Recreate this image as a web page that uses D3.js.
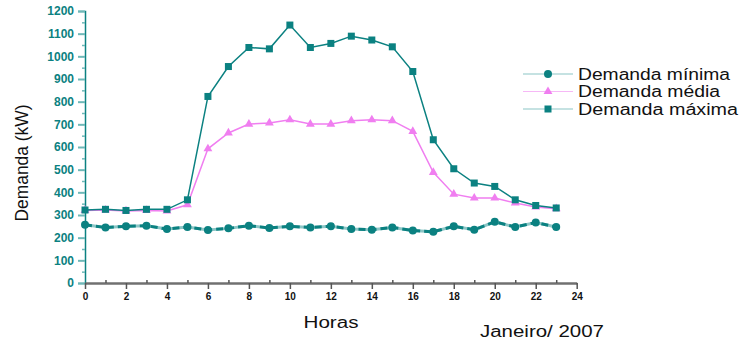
<!DOCTYPE html>
<html>
<head>
<meta charset="utf-8">
<script src="https://cdn.jsdelivr.net/npm/d3@7"></script>
<style>
  body { margin: 0; background: #fff; }
  svg { display: block; font-family: "Liberation Sans", Arial, sans-serif; }
</style>
</head>
<body>
<div id="chart"></div>
<script>
// data
let hours = d3.range(0, 24);
let demMinima = [257, 245, 250, 253, 238, 247, 234, 241, 253, 243, 250, 245, 250, 238, 235, 245, 232, 226, 250, 235, 270, 247, 267, 247];
let demMedia = [320, 322, 318, 320, 318, 345, 592, 662, 701, 706, 720, 701, 701, 716, 720, 716, 669, 488, 392, 375, 375, 353, 335, 328];
let demMaxima = [322, 325, 320, 325, 325, 367, 823, 955, 1039, 1033, 1138, 1039, 1057, 1089, 1072, 1042, 933, 632, 504, 441, 426, 367, 342, 331];
let seriesNames = ["Demanda mínima", "Demanda média", "Demanda máxima"];
let legendWidths = [152, 142, 160];
let yTicks = d3.range(0, 1201, 100);
let xTicks = d3.range(0, 25, 2);

let W = 744, H = 346;
let margin = {top: 11, left: 85, right: 167, bottom: 63};
let width = W - margin.left - margin.right,
    height = H - margin.top - margin.bottom;

let teal = "#0b8181", pink = "#f07ef0";

let x = d3.scaleLinear().domain([0, 24]).range([0, 491.7]);
let y = d3.scaleLinear().domain([0, 1200]).range([height, 0]);

let svg = d3.select("#chart").append("svg")
    .attr("width", W)
    .attr("height", H)
  .append("g")
    .attr("transform", "translate(" + margin.left + "," + margin.top + ")");

// y axis
let yAxis = svg.append("g").attr("class", "y axis")
    .call(d3.axisLeft(y).tickValues(yTicks).tickFormat(d3.format("d")).tickSize(7).tickPadding(4));
yAxis.select(".domain").attr("stroke", teal).attr("stroke-width", 1.5);
yAxis.selectAll(".tick line").attr("stroke", "#6fb8b8").attr("stroke-width", 2);
yAxis.selectAll(".tick text")
    .attr("fill", teal)
    .style("font-size", "12px")
    .style("font-weight", "bold");
svg.append("g")
    .call(d3.axisLeft(y).tickValues(d3.range(50, 1200, 100)).tickSize(3).tickFormat(""))
    .call(g => g.select(".domain").remove())
    .selectAll(".tick line").attr("stroke", "#6fb8b8").attr("stroke-width", 1.5);

// x axis
let xAxis = svg.append("g").attr("class", "x axis")
    .attr("transform", "translate(0," + height + ")")
    .call(d3.axisBottom(x).tickValues(xTicks).tickSize(6).tickPadding(4).tickSizeOuter(0));
xAxis.select(".domain").attr("stroke", "#707070").attr("stroke-width", 2.5);
xAxis.selectAll(".tick line").attr("stroke", "#555").attr("stroke-width", 1.5);
xAxis.selectAll(".tick text")
    .attr("fill", "#111")
    .style("font-size", "10px")
    .style("font-weight", "bold");
svg.append("g")
    .attr("transform", "translate(0," + height + ")")
    .call(d3.axisTop(x).tickValues(d3.range(1, 24, 2)).tickSize(3).tickFormat(""))
    .call(g => g.select(".domain").remove())
    .selectAll(".tick line").attr("stroke", "#555").attr("stroke-width", 1.5);

let line = d3.line().x((d, i) => x(hours[i])).y(d => y(d));

// minimum: thick dashed teal line over a pale one
svg.append("path").datum(demMinima)
    .attr("d", line).attr("fill", "none")
    .attr("stroke", "#8cc6c6").attr("stroke-width", 3);
svg.append("path").datum(demMinima)
    .attr("d", line).attr("fill", "none")
    .attr("stroke", teal).attr("stroke-width", 3)
    .attr("stroke-dasharray", "7,4");
svg.selectAll(".dot-min").data(demMinima).enter().append("circle")
    .attr("class", "dot-min")
    .attr("cx", (d, i) => x(hours[i]))
    .attr("cy", d => y(d))
    .attr("r", 4)
    .attr("fill", teal);

// media
svg.append("path").datum(demMedia)
    .attr("d", line).attr("fill", "none")
    .attr("stroke", pink).attr("stroke-width", 1.5);
let tri = d3.symbol().type(d3.symbolTriangle).size(34);
svg.selectAll(".dot-med").data(demMedia).enter().append("path")
    .attr("class", "dot-med")
    .attr("transform", (d, i) => "translate(" + x(hours[i]) + "," + y(d) + ")")
    .attr("d", tri)
    .attr("fill", pink);

// maxima
svg.append("path").datum(demMaxima)
    .attr("d", line).attr("fill", "none")
    .attr("stroke", teal).attr("stroke-width", 1.5);
svg.selectAll(".dot-max").data(demMaxima).enter().append("rect")
    .attr("class", "dot-max")
    .attr("x", (d, i) => x(hours[i]) - 3.5)
    .attr("y", d => y(d) - 3.5)
    .attr("width", 7)
    .attr("height", 7)
    .attr("fill", teal);

// legend
let legend = svg.append("g").attr("transform", "translate(438,63)");
let legendColors = ["#8cc6c6", "#f6b8f6", "#8cc6c6"];
seriesNames.forEach((name, i) => {
  let g = legend.append("g").attr("transform", "translate(0," + (i * 17.5) + ")");
  g.append("line").attr("x1", 0).attr("x2", 50).attr("y1", 0).attr("y2", 0)
      .attr("stroke", legendColors[i]).attr("stroke-width", 1.2);
  if (i === 0) {
    g.append("circle").attr("cx", 25).attr("cy", 0).attr("r", 4).attr("fill", teal);
  } else if (i === 1) {
    g.append("path").attr("transform", "translate(25,0)").attr("d", tri).attr("fill", pink);
  } else {
    g.append("rect").attr("x", 21.5).attr("y", -3.5).attr("width", 7).attr("height", 7).attr("fill", teal);
  }
  g.append("text").attr("x", 55).attr("y", 0).attr("dy", "0.35em")
      .attr("textLength", legendWidths[i]).attr("lengthAdjust", "spacingAndGlyphs")
      .text(name).style("font-size", "16px").attr("fill", "#111");
});

// axis titles
svg.append("text")
    .attr("transform", "translate(-63,152) rotate(-90)")
    .attr("text-anchor", "middle")
    .attr("dy", "0.35em")
    .attr("textLength", 117).attr("lengthAdjust", "spacingAndGlyphs")
    .style("font-size", "18px")
    .attr("fill", "#111")
    .text("Demanda (kW)");

svg.append("text")
    .attr("x", 246).attr("y", height + 45)
    .attr("text-anchor", "middle")
    .attr("textLength", 55).attr("lengthAdjust", "spacingAndGlyphs")
    .style("font-size", "16px")
    .attr("fill", "#111")
    .text("Horas");

svg.append("text")
    .attr("x", 395).attr("y", height + 54)
    .attr("textLength", 124).attr("lengthAdjust", "spacingAndGlyphs")
    .style("font-size", "16px")
    .attr("fill", "#111")
    .text("Janeiro/ 2007");
</script>
</body>
</html>
